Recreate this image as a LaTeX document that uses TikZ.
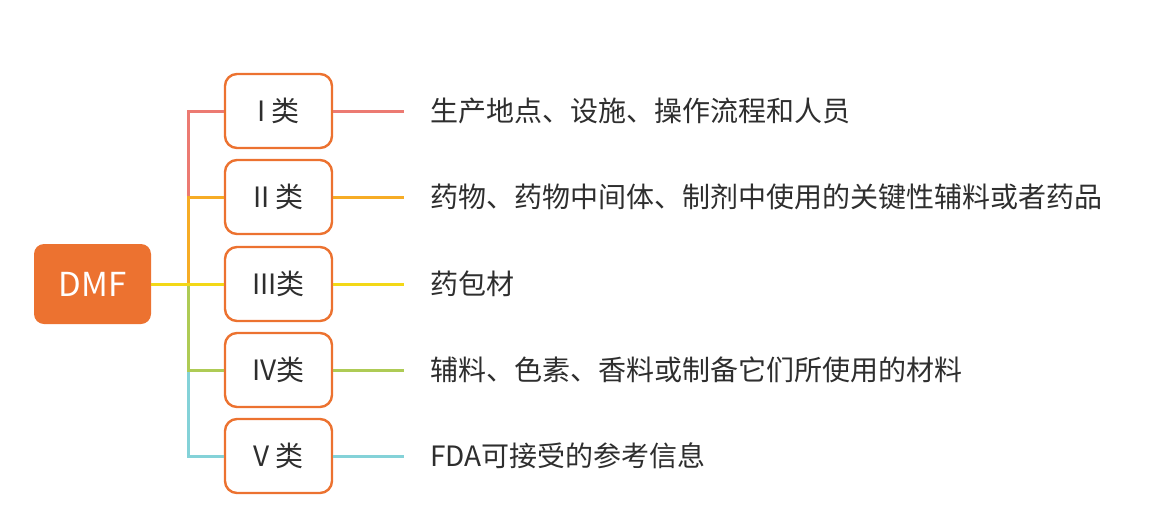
\documentclass[tikz,border=0pt]{standalone}
\usepackage{fontspec}
\setmainfont{Noto Sans CJK SC}
\begin{document}
\begin{tikzpicture}[x=1pt,y=-1pt,
  cat/.style={draw=boxor,line width=2.4pt,rounded corners=12pt,minimum width=107pt,minimum height=74pt,inner sep=0pt,font=\fontsize{28}{32}\selectfont,text=txt},
  root/.style={fill=boxor,rounded corners=10pt,minimum width=117pt,minimum height=80pt,inner sep=0pt,font=\fontsize{33}{38}\selectfont,text=white},
  desc/.style={anchor=west,inner sep=0pt,font=\fontsize{28}{32}\selectfont,text=txt},
  br/.style={line width=3pt}]
\definecolor{boxor}{HTML}{EC7230}
\definecolor{txt}{HTML}{2E2E2E}
\definecolor{cr}{HTML}{EC7A72}
\definecolor{co}{HTML}{F6AC26}
\definecolor{cy}{HTML}{F3D817}
\definecolor{cg}{HTML}{AECB55}
\definecolor{cc}{HTML}{84D2D8}
\useasboundingbox (0,0) rectangle (1166,522);
\node[root] (dmf) at (92.5,284) {DMF};
\node[cat] (c1) at (278.5,111) {I 类};
\node[cat] (c2) at (278.5,197) {II 类};
\node[cat] (c3) at (278.5,284) {III类};
\node[cat] (c4) at (278.5,370) {IV类};
\node[cat] (c5) at (278.5,456) {V 类};
\coordinate (j) at (188,284);
\coordinate (e1) at (404,111);
\coordinate (e2) at (404,197);
\coordinate (e3) at (404,284);
\coordinate (e4) at (404,370);
\coordinate (e5) at (404,456);
\node[desc] (t1) at (430,111) {生产地点、设施、操作流程和人员};
\node[desc] (t2) at (430,197) {药物、药物中间体、制剂中使用的关键性辅料或者药品};
\node[desc] (t3) at (430,284) {药包材};
\node[desc] (t4) at (430,370) {辅料、色素、香料或制备它们所使用的材料};
\node[desc] (t5) at (430,456) {FDA可接受的参考信息};
\draw[br,cr] (j) |- (c1.west);
\draw[br,co] (j) |- (c2.west);
\draw[br,cc] (j) |- (c5.west);
\draw[br,cg] (j) |- (c4.west);
\draw[br,cy] (dmf.east) -- (c3.west);
\draw[br,cr] (c1.east) -- (e1);
\draw[br,co] (c2.east) -- (e2);
\draw[br,cy] (c3.east) -- (e3);
\draw[br,cg] (c4.east) -- (e4);
\draw[br,cc] (c5.east) -- (e5);
\end{tikzpicture}
\end{document}
